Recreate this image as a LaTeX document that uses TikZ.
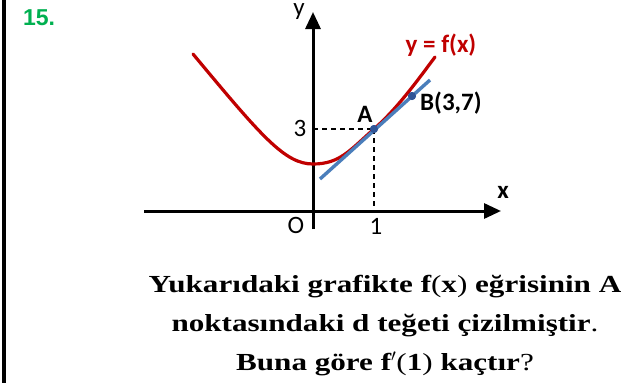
\documentclass[tikz,border=0pt]{standalone}
\usepackage{fontspec}
\setmainfont{Liberation Serif}
\newfontfamily\qfont[FakeStretch=1.27]{Liberation Serif}
\newfontfamily\lblfont{Carlito}
\newfontfamily\numfont{Liberation Sans}
\usetikzlibrary{arrows.meta}
\definecolor{curvered}{HTML}{C00000}
\definecolor{tanblue}{HTML}{4A7EBB}
\definecolor{dotblue}{HTML}{2F5597}
\definecolor{qgreen}{HTML}{00B050}
\newcommand{\md}[1]{{\mdseries #1}}
\tikzset{
  axis/.style={line width=3pt,-{Triangle[length=17pt,width=15pt]}},
  guide/.style={line width=1.3pt,dash pattern=on 5pt off 4pt},
  lbl/.style={font=\lblfont\fontsize{25}{28}\selectfont,inner sep=0pt},
  blbl/.style={font=\lblfont\bfseries\fontsize{25}{28}\selectfont,inner sep=0pt},
  qtext/.style={font=\qfont\bfseries\fontsize{24.5}{39}\selectfont,inner sep=0pt,align=center},
  pt/.style={circle,fill=dotblue,minimum size=8pt,inner sep=0pt}
}
\begin{document}
\begin{tikzpicture}[x=1pt,y=-1pt]
\useasboundingbox (0,0) rectangle (624,383);
\fill (2,0) rectangle (6,383);
\node[font=\numfont\bfseries\fontsize{23}{26}\selectfont,text=qgreen,inner sep=0pt] (num) at (39,18) {15.};
% axes
\coordinate (xs) at (144,211);
\coordinate (xe) at (501,211);
\coordinate (ys) at (313,229);
\coordinate (ye) at (313,12);
\draw[axis] (xs) -- (xe);
\draw[axis] (ys) -- (ye);
\node[lbl] (ylab) at (299,12) {y};
\node[blbl] (xlab) at (503,192) {x};
\node[lbl] (olab) at (296,225) {O};
\node[lbl] (one) at (376,226) {1};
\node[lbl] (three) at (300,128) {3};
% points
\node[pt] (A) at (374,129) {};
\node[pt] (B) at (412,96) {};
\coordinate (Ay) at (313,129);
\coordinate (Ax) at (374,211);
\draw[guide] (Ay) -- (A.center);
\draw[guide] (A.center) -- (Ax);
% curve
\draw[curvered,line width=3.2pt,line cap=round] (193,54) .. controls (262,137) and (285,164) .. (313,164)
  .. controls (340,164) and (350,150) .. (374,129)
  .. controls (398,108) and (420,77) .. (435,57);
% tangent
\coordinate (t1) at (320,179);
\coordinate (t2) at (430,80);
\draw[tanblue,line width=3.4pt] (t1) -- (t2);
\node[pt] at (A) {};
\node[pt] at (B) {};
\node[blbl] (Alab) at (365,114) {A};
\node[blbl,anchor=west] (Blab) at (420,103) {B(3,7)};
\node[blbl,text=curvered] (flab) at (441,45) {y = f(x)};
% question
\node[qtext] (q) at (385,326) {Yukarıdaki grafikte f\md{(}x\md{)} eğrisinin A\\ noktasındaki d teğeti çizilmiştir\md{.}\\ Buna göre f$'$\md{(}1\md{)} kaçtır\md{?}};
\end{tikzpicture}
\end{document}
